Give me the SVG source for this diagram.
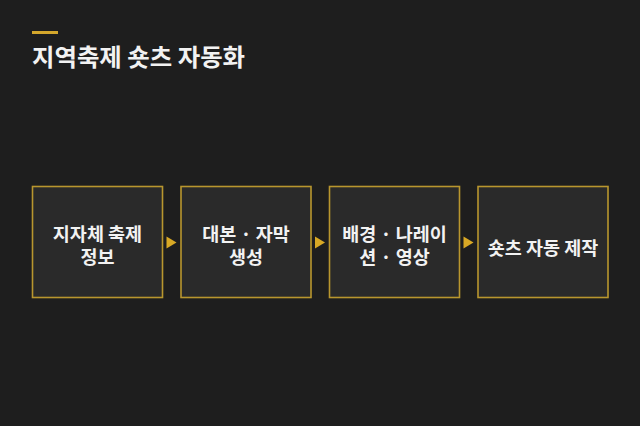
<svg xmlns="http://www.w3.org/2000/svg" width="640" height="426" viewBox="0 0 640 426">
<style>
.bg{fill:#1e1e1e}
.box{fill:#2a2a2a;stroke:#b8962e;stroke-width:1.6}
.lbl{font-family:"Noto Sans CJK KR","Noto Sans",sans-serif;font-weight:700;font-size:18.5px;fill:#f2f2f2;text-anchor:middle}
.title{font-family:"Noto Sans CJK KR","Noto Sans",sans-serif;font-weight:700;font-size:24.4px;fill:#f2f2f2}
.arr{fill:#d9a925}
</style>
<rect class="bg" x="0" y="0" width="640" height="426"/>
<rect x="32" y="31" width="26" height="3" fill="#d4a72c"/>
<text class="title" x="32" y="66">지역축제 숏츠 자동화</text>
<g id="connectors">
<polygon class="arr" points="166.5,236.5 176.5,242.5 166.5,248.5"/>
<polygon class="arr" points="315,236.5 325,242.5 315,248.5"/>
<polygon class="arr" points="463.5,236.5 473.5,242.5 463.5,248.5"/>
</g>
<g id="n1">
<rect class="box" x="32.5" y="186.5" width="130" height="111"/>
<text class="lbl" x="97.5" y="241">지자체 축제</text>
<text class="lbl" x="97.5" y="263.5">정보</text>
</g>
<g id="n2">
<rect class="box" x="181" y="186.5" width="130" height="111"/>
<text class="lbl" x="246" y="241">대본 · 자막</text>
<text class="lbl" x="246" y="263.5">생성</text>
</g>
<g id="n3">
<rect class="box" x="329.5" y="186.5" width="130" height="111"/>
<text class="lbl" x="394.5" y="241">배경 · 나레이</text>
<text class="lbl" x="394.5" y="263.5">션 · 영상</text>
</g>
<g id="n4">
<rect class="box" x="478" y="186.5" width="130" height="111"/>
<text class="lbl" x="543" y="254.5">숏츠 자동 제작</text>
</g>
</svg>
